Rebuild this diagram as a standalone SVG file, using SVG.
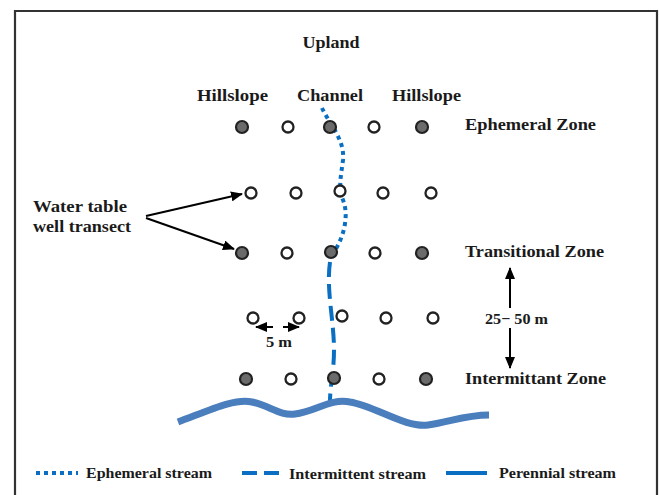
<svg xmlns="http://www.w3.org/2000/svg" width="659" height="495" viewBox="0 0 659 495">
<style>
text{font-family:"Liberation Serif","Times New Roman",serif;font-weight:bold;fill:#1a1a1a}
.t{font-size:17.5px}
.s{font-size:15.5px}
.wf{fill:#6b6b6b;stroke:#222;stroke-width:2.2}
.wo{fill:#fff;stroke:#222;stroke-width:2.3}
.eph{fill:none;stroke:#0a6fc2;stroke-width:4;stroke-dasharray:4 4}
.int{fill:none;stroke:#0a6fc2;stroke-width:4;stroke-dasharray:15 7}
.per{fill:none;stroke:#4a7ebd;stroke-width:7;stroke-linecap:butt}
.arr{fill:none;stroke:#000;stroke-width:2}
</style>
<defs>
<marker id="ah" viewBox="0 0 12 10" refX="11" refY="5" markerWidth="12" markerHeight="10" markerUnits="userSpaceOnUse" orient="auto">
<path d="M0,0 L12,5 L0,10 Z" fill="#000"/>
</marker>
</defs>
<rect x="0" y="0" width="659" height="495" fill="#fff"/>
<path d="M15,500 L15,11 L657,11 L657,500" fill="none" stroke="#333" stroke-width="2.2"/>

<g id="streams">
<path class="eph" d="M322,108 C330,125 345,140 343,160 C341,176 338,188 343,200 C349,215 345,238 330,258"/>
<path class="int" d="M330,262 C326,290 334,320 334,350 C334,372 330,385 330,402"/>
<path class="per" d="M178,422 C210,410 235,398 252,402 C270,406 280,416 295,414 C315,412 330,398 350,402 C375,406 405,428 428,425 C450,422 465,415 489,415"/>
</g>

<g id="labels">
<text id="upland" class="t" x="331" y="48" text-anchor="middle" textLength="57" lengthAdjust="spacingAndGlyphs">Upland</text>
<text id="hill-l" class="t" x="197" y="101" textLength="71" lengthAdjust="spacingAndGlyphs">Hillslope</text>
<text id="channel" class="t" x="297" y="101" textLength="66" lengthAdjust="spacingAndGlyphs">Channel</text>
<text id="hill-r" class="t" x="392" y="101" textLength="69" lengthAdjust="spacingAndGlyphs">Hillslope</text>
<text id="zone-eph" class="t" x="465" y="130" textLength="131" lengthAdjust="spacingAndGlyphs">Ephemeral Zone</text>
<text id="zone-tra" class="t" x="465" y="257" textLength="139" lengthAdjust="spacingAndGlyphs">Transitional Zone</text>
<text id="zone-int" class="t" x="465" y="384" textLength="141" lengthAdjust="spacingAndGlyphs">Intermittant Zone</text>
</g>

<g id="wells">
<circle class="wf" cx="242" cy="127" r="6"/>
<circle class="wo" cx="288" cy="127" r="5.5"/>
<circle class="wf" cx="330" cy="127" r="6"/>
<circle class="wo" cx="374" cy="127" r="5.5"/>
<circle class="wf" cx="422" cy="127" r="6"/>

<circle class="wo" cx="251" cy="193" r="5.5"/>
<circle class="wo" cx="296" cy="193" r="5.5"/>
<circle class="wo" cx="340" cy="191" r="5.5"/>
<circle class="wo" cx="383" cy="193" r="5.5"/>
<circle class="wo" cx="431" cy="193" r="5.5"/>

<circle class="wf" cx="242" cy="253" r="6"/>
<circle class="wo" cx="287" cy="253" r="5.5"/>
<circle class="wf" cx="331" cy="252" r="6"/>
<circle class="wo" cx="375" cy="253" r="5.5"/>
<circle class="wf" cx="422" cy="253" r="6"/>

<circle class="wo" cx="253" cy="318" r="5.5"/>
<circle class="wo" cx="299" cy="318" r="5.5"/>
<circle class="wo" cx="342" cy="316" r="5.5"/>
<circle class="wo" cx="386" cy="318" r="5.5"/>
<circle class="wo" cx="433" cy="318" r="5.5"/>

<circle class="wf" cx="246" cy="379" r="6"/>
<circle class="wo" cx="291" cy="379" r="5.5"/>
<circle class="wf" cx="334" cy="378" r="6"/>
<circle class="wo" cx="379" cy="379" r="5.5"/>
<circle class="wf" cx="426" cy="379" r="6"/>
</g>

<g id="transect-label">
<text class="t" x="33" y="212" textLength="94" lengthAdjust="spacingAndGlyphs">Water table</text>
<text class="t" x="33" y="232" textLength="98" lengthAdjust="spacingAndGlyphs">well transect</text>
</g>

<g id="connectors">
<line class="arr" x1="146" y1="216" x2="242" y2="194" marker-end="url(#ah)"/>
<line class="arr" x1="146" y1="218" x2="234" y2="249" marker-end="url(#ah)"/>
<line class="arr" x1="273" y1="327" x2="256" y2="327" marker-end="url(#ah)"/>
<line class="arr" x1="283" y1="327" x2="299" y2="327" marker-end="url(#ah)"/>
<line class="arr" x1="510" y1="308" x2="510" y2="268" marker-end="url(#ah)"/>
<line class="arr" x1="510" y1="328" x2="510" y2="368" marker-end="url(#ah)"/>
</g>

<g id="dims">
<text class="s" x="266" y="347" textLength="26" lengthAdjust="spacingAndGlyphs">5 m</text>
<text class="s" x="485" y="324" textLength="63" lengthAdjust="spacingAndGlyphs">25− 50 m</text>
</g>

<g id="legend">
<line class="eph" x1="36" y1="473" x2="78" y2="473"/>
<text class="s" x="86" y="478" textLength="126" lengthAdjust="spacingAndGlyphs">Ephemeral stream</text>
<line class="int" x1="242" y1="473" x2="279" y2="473"/>
<text class="s" x="289" y="479" textLength="137" lengthAdjust="spacingAndGlyphs">Intermittent stream</text>
<line x1="446" y1="473" x2="487" y2="473" stroke="#0a6fc2" stroke-width="4"/>
<text class="s" x="499" y="478" textLength="117" lengthAdjust="spacingAndGlyphs">Perennial stream</text>
</g>
</svg>
